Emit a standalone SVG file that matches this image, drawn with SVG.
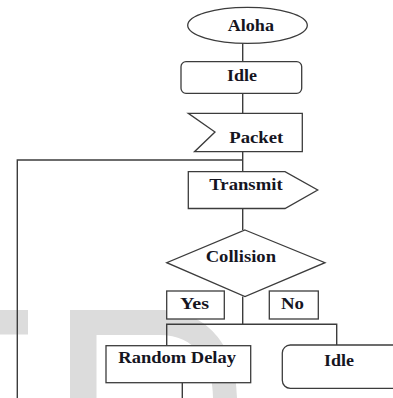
<svg xmlns="http://www.w3.org/2000/svg" width="393" height="398" viewBox="0 0 393 398">
<style>
.s{fill:#fff;stroke:#3c3c3c;stroke-width:1.3}
.c{fill:none;stroke:#3c3c3c;stroke-width:1.4}
.t{font-family:"Liberation Serif","Times New Roman",serif;font-weight:bold;font-size:16px;fill:#15151f}
.w{fill:#dcdcdc;stroke:none}
</style>
<rect width="393" height="398" fill="#fff"/>
<g id="watermark">
<rect class="w" x="0" y="310" width="28" height="24.5"/>
<path class="w" d="M70,310 H160 C205,310 237,345 237,398 H213 C213,362 195,335 160,335 H96.5 V398 H70 Z"/>
</g>
<g id="connectors">
<path class="c" d="M242.7,43.3 V61.7"/>
<path class="c" d="M242.7,93.3 V113.3"/>
<path class="c" d="M242.7,151.7 V171.7"/>
<path class="c" d="M242.7,160 H17.3 V398"/>
<path class="c" d="M242.7,208.5 V230"/>
<path class="c" d="M242.7,296.5 V324.3"/>
<path class="c" d="M166.7,345.7 V324.3 H336.7 V345"/>
<path class="c" d="M182.3,382.7 V398"/>
</g>
<g id="aloha">
<ellipse class="s" cx="247.5" cy="25.3" rx="59.8" ry="18"/>
<text class="t" x="227.7" y="30.7" textLength="46.3" lengthAdjust="spacingAndGlyphs">Aloha</text>
</g>
<g id="idle1">
<rect class="s" x="181" y="61.7" width="120.7" height="31.6" rx="5"/>
<text class="t" x="227" y="80.7" textLength="30" lengthAdjust="spacingAndGlyphs">Idle</text>
</g>
<g id="packet">
<polygon class="s" points="188.3,113.3 302.3,113.3 302.3,151.7 194.5,151.7 215,132"/>
<text class="t" x="229.3" y="143.3" textLength="54" lengthAdjust="spacingAndGlyphs">Packet</text>
</g>
<g id="transmit">
<polygon class="s" points="188.3,171.7 285,171.7 317.7,190 285,208.5 188.3,208.5"/>
<text class="t" x="209.3" y="190" textLength="73.3" lengthAdjust="spacingAndGlyphs">Transmit</text>
</g>
<g id="collision">
<polygon class="s" points="245,230 325,262.7 245,296.5 166.7,262.7"/>
<text class="t" x="205.7" y="262.3" textLength="70.3" lengthAdjust="spacingAndGlyphs">Collision</text>
</g>
<g id="yes">
<rect class="s" x="166.7" y="291" width="57.6" height="28"/>
<text class="t" x="180" y="309" textLength="29" lengthAdjust="spacingAndGlyphs">Yes</text>
</g>
<g id="no">
<rect class="s" x="269.3" y="291" width="49" height="28"/>
<text class="t" x="281" y="309" textLength="23" lengthAdjust="spacingAndGlyphs">No</text>
</g>
<g id="random-delay">
<rect class="s" x="106" y="345.7" width="144.7" height="37"/>
<text class="t" x="118.3" y="363.3" textLength="117.7" lengthAdjust="spacingAndGlyphs">Random Delay</text>
</g>
<g id="idle2">
<rect class="s" x="282.3" y="345" width="130" height="43.3" rx="8"/>
<text class="t" x="324" y="365.7" textLength="30" lengthAdjust="spacingAndGlyphs">Idle</text>
</g>
</svg>
